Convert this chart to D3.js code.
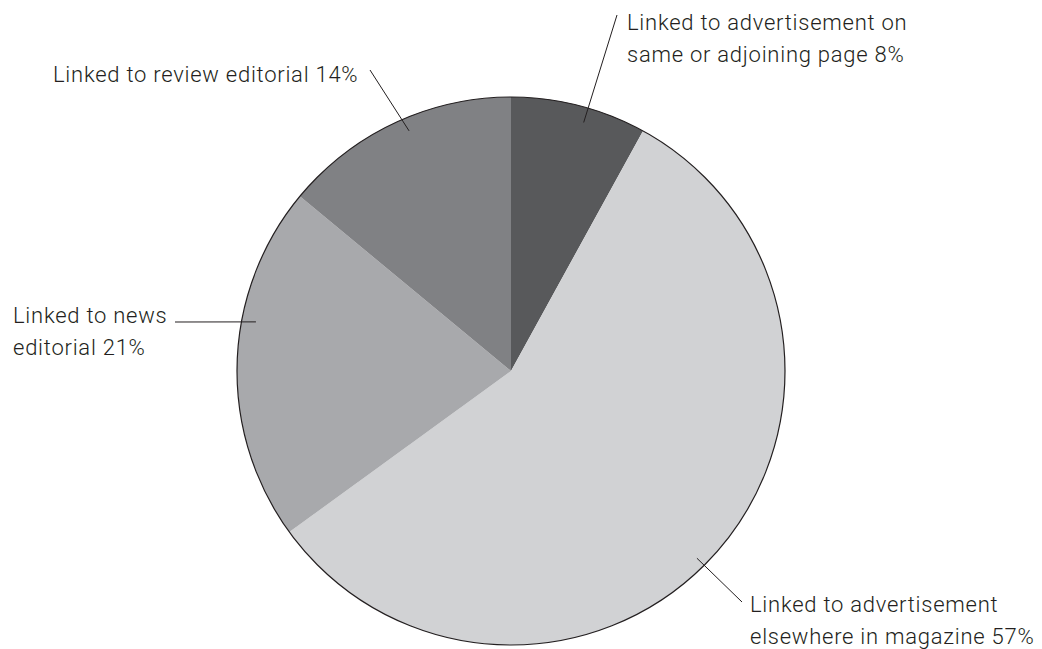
<!DOCTYPE html>
<html>
<head>
<meta charset="utf-8">
<script src="https://cdn.jsdelivr.net/npm/d3@7"></script>
<style>
  html, body { margin: 0; padding: 0; background: #fff; }
  svg { display: block; }
  .lbl { font-family: Roboto, "Liberation Sans", sans-serif; font-weight: 300; font-size: 22px; letter-spacing: 0.75px; fill: #231f20; }
</style>
</head>
<body>
<svg id="chart" width="1042" height="649"></svg>
<script>
// Share of items by what they are linked to (clockwise from 12 o'clock)
const categories = [
  "Linked to advertisement on same or adjoining page",
  "Linked to advertisement elsewhere in magazine",
  "Linked to news editorial",
  "Linked to review editorial"
];
const values = [8, 57, 21, 14];
const labelLines = [
  ["Linked to advertisement on", "same or adjoining page 8%"],
  ["Linked to advertisement", "elsewhere in magazine 57%"],
  ["Linked to news", "editorial 21%"],
  ["Linked to review editorial 14%"]
];
const colors = ["#58595b", "#d1d2d4", "#a8a9ac", "#808184"];

// Label layout: text anchor, leader-line inner end (angle in degrees clockwise from top,
// radius fraction), and leader-line outer end.
const labelLayout = [
  { tx: 627, ty: 30, inAng: 16.3, inR: 0.945, out: [617, 15] },
  { tx: 750, ty: 612, inAng: 135.2, inR: 0.963, out: [742, 602] },
  { tx: 13, ty: 323, inAng: 280.9, inR: 0.948, out: [175, 322] },
  { tx: 53, ty: 82, inAng: 337.0, inR: 0.952, out: [370, 70] }
];

const cx = 511, cy = 371, R = 274;
const lineHeight = 32;

const svg = d3.select("#chart");
const g = svg.append("g").attr("transform", `translate(${cx},${cy})`);

const pie = d3.pie().sort(null).value(d => d);
const arc = d3.arc().innerRadius(0).outerRadius(R);
const arcs = pie(values);

g.selectAll("path.slice")
  .data(arcs)
  .join("path")
  .attr("class", "slice")
  .attr("d", arc)
  .attr("fill", (d, i) => colors[i]);

// thin outline around the whole disc
g.append("circle")
  .attr("r", R)
  .attr("fill", "none")
  .attr("stroke", "#231f20")
  .attr("stroke-width", 1.2);

// leader lines
labelLayout.forEach((L, i) => {
  const a = L.inAng * Math.PI / 180;
  const x1 = cx + Math.sin(a) * R * L.inR;
  const y1 = cy - Math.cos(a) * R * L.inR;
  svg.append("line")
    .attr("x1", x1).attr("y1", y1)
    .attr("x2", L.out[0]).attr("y2", L.out[1])
    .attr("stroke", "#231f20")
    .attr("stroke-width", 1);
});

// labels
labelLayout.forEach((L, i) => {
  const t = svg.append("text").attr("class", "lbl").attr("x", L.tx).attr("y", L.ty);
  labelLines[i].forEach((s, j) => {
    t.append("tspan").attr("x", L.tx).attr("y", L.ty + j * lineHeight).text(s);
  });
});
</script>
</body>
</html>
